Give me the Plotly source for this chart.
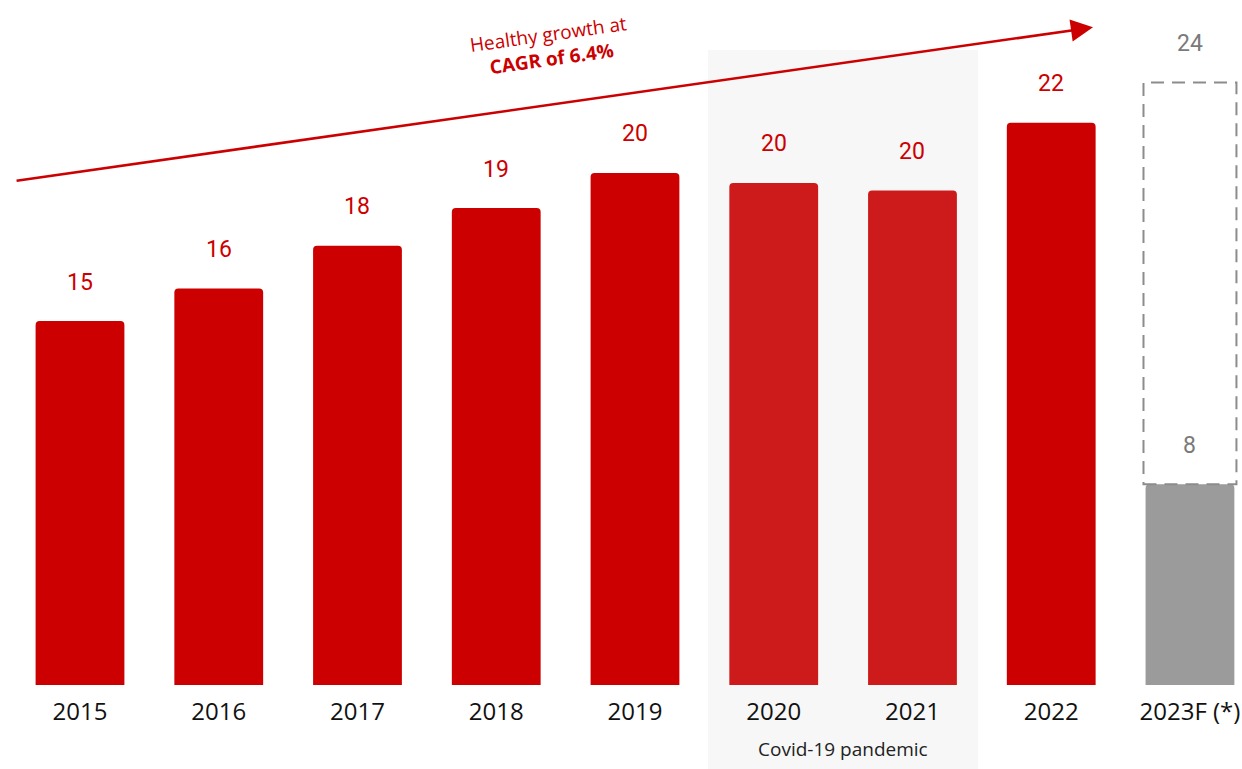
import plotly.graph_objects as go

categories = ["2015", "2016", "2017", "2018", "2019", "2020", "2021", "2022", "2023F (*)"]
values = [14.5, 15.8, 17.5, 19.0, 20.4, 20.0, 19.7, 22.4]
labels = ["15", "16", "18", "19", "20", "20", "20", "22"]
bar_colors = ["#CC0000"] * 5 + ["#CD1A1A", "#CD1A1A"] + ["#CC0000"]
forecast_base = 8
forecast_total = 24
forecast_labels = ["8", "24"]
cagr_text = "Healthy growth at<br><b>CAGR of 6.4%</b>"
covid_text = "Covid-19 pandemic"

xs = list(range(len(categories)))
bw = 0.64

fig = go.Figure()
fig.add_trace(go.Bar(x=xs[:8], y=values, marker=dict(color=bar_colors, line=dict(width=0)),
                     width=bw, showlegend=False, hoverinfo="skip"))
fig.add_trace(go.Bar(x=[xs[8]], y=[forecast_base], marker=dict(color="#9B9B9B", line=dict(width=0)),
                     width=bw, showlegend=False, hoverinfo="skip"))

# value labels
for i, (v, t) in enumerate(zip(values, labels)):
    fig.add_annotation(x=xs[i], y=v, text=t, showarrow=False, yshift=39, yanchor="middle",
                       font=dict(family="Roboto", size=23, color="#CC0000"))
for v, t in zip([forecast_base, forecast_total], forecast_labels):
    fig.add_annotation(x=xs[8], y=v, text=t, showarrow=False, yshift=39, yanchor="middle",
                       font=dict(family="Roboto", size=23, color="#7A7A7A"))

# dashed forecast outline
fig.add_shape(type="rect", x0=xs[8] - 0.335, x1=xs[8] + 0.335, y0=forecast_base, y1=forecast_total,
              line=dict(color="#8C8C8C", width=2, dash="13px,8px"), fillcolor="rgba(0,0,0,0)", layer="above")

# covid shading
fig.add_shape(type="rect", xref="x", yref="paper", x0=4.526, x1=6.472, y0=-0.13, y1=0.927,
              fillcolor="#F7F7F7", line=dict(width=0), layer="below")
fig.add_annotation(x=5.5, xref="x", yref="paper", y=-0.0934, text=covid_text, showarrow=False,
                   yanchor="middle", font=dict(family="Open Sans", size=19, color="#222222"))

# growth arrow
fig.add_annotation(x=7.301, y=26.2, ax=-0.468, ay=20.08, axref="x", ayref="y", xref="x", yref="y",
                   text="", showarrow=True, arrowhead=2, arrowsize=1.7, arrowwidth=2.6,
                   arrowcolor="#CC0000")
fig.add_annotation(xref="paper", yref="paper", x=0.443, y=0.932, text=cagr_text, showarrow=False,
                   textangle=-8, align="center", xanchor="center", yanchor="middle",
                   font=dict(family="Open Sans", size=19, color="#CC0000"))

fig.update_layout(
    width=1242, height=769,
    margin=dict(l=0, r=0, t=0, b=84),
    plot_bgcolor="white", paper_bgcolor="white",
    barcornerradius=4,
    xaxis=dict(range=[-0.5766, 8.375], tickvals=xs, ticktext=categories, showgrid=False,
               zeroline=False, showline=False, ticks="", ticklabelstandoff=10,
               tickfont=dict(family="Open Sans", size=24, color="#111111")),
    yaxis=dict(range=[0, 27.29], visible=False, showgrid=False, zeroline=False),
)

fig.write_html("out.html", config={"displayModeBar": False},
               post_script="document.body.style.margin='0px';document.body.style.overflow='hidden';")
